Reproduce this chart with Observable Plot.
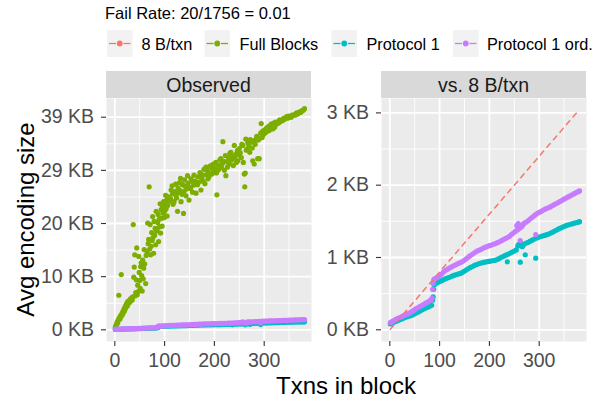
<!DOCTYPE html>
<html>
<head>
<meta charset="utf-8">
<script src="https://cdn.jsdelivr.net/npm/d3@7"></script>
<script src="https://cdn.jsdelivr.net/npm/@observablehq/plot@0.6"></script>
<style>
  html, body { margin: 0; padding: 0; background: #fff; }
  #chart { position: relative; width: 593px; height: 402px; overflow: hidden; background: #fff;
           font-family: "Liberation Sans", Arial, Helvetica, sans-serif; }
  #chart > svg.panel { position: absolute; }
  #overlay { position: absolute; left: 0; top: 0; pointer-events: none; }
</style>
</head>
<body>
<div id="chart"></div>
<script>
// ---------------- data ----------------
const legendTitle = "Fail Rate: 20/1756 = 0.01";
const seriesNames = ["8 B/txn", "Full Blocks", "Protocol 1", "Protocol 1 ord."];
const seriesColors = ["#F8766D", "#7CAE00", "#00BFC4", "#C77CFF"];
const facetNames = ["Observed", "vs. 8 B/txn"];
const xLabel = "Txns in block";
const yLabel = "Avg encoding size";

const xTicks = [0, 100, 200, 300];
const xTickLabels = ["0", "100", "200", "300"];
const xMinorTicks = [50, 150, 250, 350];
const yTicksObserved = [0, 10000, 20000, 30000, 40000];
const yTickLabelsObserved = ["0 KB", "10 KB", "20 KB", "29 KB", "39 KB"];
const yMinorObserved = [5000, 15000, 25000, 35000];
const yTicksVs = [0, 1000, 2000, 3000];
const yTickLabelsVs = ["0 KB", "1 KB", "2 KB", "3 KB"];
const yMinorVs = [500, 1500, 2500];

// [txns, bytes]
const eightBPerTxn = [[1, 8], [380, 3040]];

const fullBlocks = [
  [1,450],[2,700],[3,900],[4,1200],[5,1500],[6,1300],[7,1900],[8,6500],[9,2200],[10,2000],
  [11,2600],[12,2400],[13,10400],[14,3000],[15,2800],[16,3400],[17,3200],[18,3800],[19,3500],[20,4200],
  [21,3900],[22,4600],[23,4400],[24,5000],[25,4500],[26,5300],[27,4900],[28,5400],[30,5200],[31,5800],
  [32,5500],[34,6000],[35,5600],[36,6200],[37,19800],[38,9900],[39,11800],[40,14100],[41,6400],[42,7000],
  [43,9400],[44,15400],[45,6600],[46,8400],[47,7200],[48,13800],[49,10800],[50,9300],[51,7800],[52,11900],
  [53,12600],[54,10200],[55,7300],[56,13100],[57,9600],[58,11600],[59,15100],[60,12400],[62,8700],[63,14000],
  [65,14700],[66,20100],[67,16200],[68,17000],[69,26900],[70,15200],[71,19800],[72,14100],[73,15700],[74,18300],
  [75,16800],[76,21300],[77,17400],[78,14400],[79,20400],[80,17800],[81,19100],[82,16000],[83,22300],[84,18600],
  [85,18900],[86,20200],[87,21700],[88,16600],[89,20800],[90,19400],[91,23700],[92,18200],[93,22600],[94,21000],
  [95,19500],[96,23200],[97,22000],[98,24100],[99,21100],[100,22300],[101,23800],[102,25300],[103,22800],[104,24400],
  [105,21400],[106,23400],[108,25000],[110,24200],[112,24700],[113,26300],[115,27100],[116,25600],[117,23600],[119,24100],
  [120,26000],[122,27400],[123,25300],[124,24800],[126,22300],[127,26700],[128,25800],[130,27700],[131,26200],[132,28500],
  [133,24100],[135,25500],[136,27300],[138,21900],[139,26000],[140,28200],[141,27000],[143,25200],[144,26500],[146,29000],
  [147,27600],[149,24400],[150,26800],[152,26600],[153,28400],[155,27900],[156,25900],[158,27200],[159,29100],[161,28000],
  [163,25700],[164,27500],[166,27300],[167,28800],[169,27800],[171,29600],[173,26300],[174,29300],[175,28300],[176,29000],
  [178,27900],[179,30200],[181,27500],[183,30600],[184,29200],[186,29900],[187,28400],[189,28800],[190,30700],[192,29500],
  [193,30900],[195,29300],[196,30300],[198,31200],[199,29800],[201,30400],[203,31500],[204,29500],[205,25400],[206,29900],
  [208,31000],[209,30200],[211,32000],[213,32200],[214,30600],[216,31300],[217,35400],[219,31700],[220,30000],[222,32800],
  [223,29000],[225,31600],[226,30600],[228,32400],[230,31200],[231,33200],[233,33400],[234,31900],[236,32600],[238,30900],
  [240,34700],[241,32300],[243,33000],[244,31500],[246,33700],[247,31800],[249,32900],[250,34100],[252,33300],[254,32400],
  [255,34900],[257,34700],[258,31500],[260,29300],[261,26900],[262,29500],[263,35900],[264,33800],[266,34000],[267,35200],
  [269,34600],[271,33400],[272,35800],[274,35300],[276,34200],[277,31800],[279,35600],[280,31200],[282,34900],[284,35900],
  [285,36400],[287,32200],[288,35700],[290,32200],[291,36000],[293,37000],[294,38800],[296,36200],[297,37400],[299,36800],
  [301,37600],[303,37100],[305,38000],[307,37400],[309,38300],[310,37500],[312,38200],[314,38700],[316,38400],[317,37800],
  [319,38900],[321,38100],[323,39100],[325,38700],[327,39100],[329,38900],[331,39500],[333,39200],[335,39400],[337,39400],
  [339,39800],[341,39600],[343,39800],[345,40100],[347,39800],[349,40200],[351,40000],[354,40000],[356,40400],[358,40300],
  [361,40500],[363,40400],[365,40800],[367,40600],[369,40800],[371,41000],[373,40900],[375,41200],[377,41200],[379,41400],
  [381,41600]
];

const protocol1 = [
  [1,80],[4,90],[8,103],[12,115],[16,127],[20,138],[24,150],[28,162],[32,173],[36,183],
  [40,192],[44,200],[48,214],[52,228],[56,243],[60,258],[64,272],[68,288],[72,300],[76,312],
  [80,325],[84,338],[86,410],[87,455],[88,560],[89,620],[91,636],[94,648],[98,660],[102,672],
  [106,686],[110,700],[114,712],[118,722],[122,733],[126,745],[130,755],[134,765],[138,772],[142,780],
  [146,795],[150,812],[154,830],[158,848],[162,862],[166,875],[170,890],[174,902],[178,912],[182,920],
  [186,928],[190,935],[194,940],[198,945],[202,950],[206,955],[210,960],[214,968],[218,980],[222,995],
  [226,1010],[230,1022],[234,1035],[236,940],[238,1048],[242,1060],[246,1075],[250,1090],[254,1105],[257,1160],
  [259,1180],[262,935],[263,1200],[266,1150],[268,1170],[270,1185],[272,1037],[274,1200],[278,1210],[282,1225],
  [286,1240],[290,1255],[293,991],[295,1268],[299,1280],[303,1290],[307,1298],[311,1305],[315,1315],[319,1325],
  [323,1338],[327,1350],[331,1365],[335,1380],[339,1395],[343,1408],[347,1420],[351,1432],[355,1443],[359,1452],
  [363,1460],[367,1468],[371,1476],[375,1483],[379,1490],[381,1495]
];

const protocol1Ord = [
  [1,100],[4,112],[8,128],[12,143],[16,158],[20,170],[24,183],[28,196],[32,208],[36,220],
  [40,233],[44,250],[48,268],[52,288],[56,305],[60,322],[64,336],[68,352],[72,368],[76,382],
  [80,400],[83,412],[85,440],[86,560],[87,640],[88,690],[90,705],[93,716],[96,730],[100,748],
  [104,770],[108,800],[112,822],[116,838],[120,855],[124,870],[128,886],[132,898],[136,912],[140,925],
  [144,936],[148,955],[152,975],[156,995],[160,1018],[164,1038],[168,1055],[172,1075],[176,1092],[180,1103],
  [184,1117],[188,1130],[192,1142],[196,1155],[200,1163],[204,1172],[208,1183],[212,1192],[216,1205],[220,1218],
  [224,1232],[228,1248],[232,1262],[236,1276],[240,1292],[244,1318],[248,1338],[252,1360],[255,1440],[256,1380],
  [258,1470],[260,1400],[262,1235],[264,1420],[266,1440],[268,1460],[270,1475],[274,1490],[278,1510],[282,1535],
  [286,1556],[290,1578],[293,1318],[294,1600],[298,1618],[302,1630],[306,1645],[310,1662],[314,1675],[318,1688],
  [322,1700],[326,1715],[330,1730],[334,1745],[338,1760],[342,1775],[346,1792],[350,1808],[354,1822],[358,1838],
  [362,1852],[366,1868],[370,1882],[374,1897],[378,1910],[381,1920]
];

// ---------------- layout ----------------
const FONT = '"Liberation Sans", Arial, Helvetica, sans-serif';
const toRows = arr => arr.map(([x, y]) => ({x, y}));
const xDomain = [-16.7, 395];
const yDomainObserved = [-2200, 43520];
const yDomainVs = [-162, 3199];
const PANEL_TOP = 98, PANEL_H = 243, PANEL_W = 205;

function panel({yDomain, yTicks, yLabels, yMinor, marks, marginLeft, marginRight}) {
  const lookup = (ticks, labels) => d => labels[ticks.indexOf(d)];
  return Plot.plot({
    width: marginLeft + PANEL_W + marginRight,
    height: PANEL_H + 32,
    marginLeft, marginRight, marginTop: 0, marginBottom: 32,
    style: {fontFamily: FONT, fontSize: "19.5px", background: "transparent", color: "#4D4D4D"},
    x: {domain: xDomain},
    y: {domain: yDomain},
    marks: [
      Plot.frame({fill: "#EBEBEB", stroke: "none"}),
      Plot.gridX(xMinorTicks, {stroke: "white", strokeOpacity: 1, strokeWidth: 0.9}),
      Plot.gridY(yMinor, {stroke: "white", strokeOpacity: 1, strokeWidth: 0.9}),
      Plot.gridX(xTicks, {stroke: "white", strokeOpacity: 1, strokeWidth: 1.8}),
      Plot.gridY(yTicks, {stroke: "white", strokeOpacity: 1, strokeWidth: 1.8}),
      Plot.axisX(xTicks, {tickSize: 5, tickPadding: 7, stroke: "#333333", strokeWidth: 1.1,
        fill: "#4D4D4D", tickFormat: lookup(xTicks, xTickLabels), label: null}),
      Plot.axisY(yTicks, {tickSize: 5, tickPadding: 7.5, stroke: "#333333", strokeWidth: 1.1,
        fill: "#4D4D4D", tickFormat: lookup(yTicks, yLabels), label: null}),
      ...marks
    ]
  });
}

const dotOpts = color => ({x: "x", y: "y", r: 2.6, fill: color, stroke: "none"});

const leftPlot = panel({
  yDomain: yDomainObserved, yTicks: yTicksObserved, yLabels: yTickLabelsObserved, yMinor: yMinorObserved,
  marginLeft: 106, marginRight: 2,
  marks: [
    Plot.dot(toRows(fullBlocks), dotOpts(seriesColors[1])),
    Plot.dot(toRows(protocol1), dotOpts(seriesColors[2])),
    Plot.dot(toRows(protocol1Ord), dotOpts(seriesColors[3]))
  ]
});

const rightPlot = panel({
  yDomain: yDomainVs, yTicks: yTicksVs, yLabels: yTickLabelsVs, yMinor: yMinorVs,
  marginLeft: 70, marginRight: 4,
  marks: [
    Plot.dot(toRows(protocol1), dotOpts(seriesColors[2])),
    Plot.dot(toRows(protocol1Ord), dotOpts(seriesColors[3])),
    Plot.line(toRows(eightBPerTxn), {x: "x", y: "y", stroke: seriesColors[0], strokeWidth: 1.5, strokeDasharray: "5,5"})
  ]
});

const chart = document.getElementById("chart");
leftPlot.classList.add("panel");
rightPlot.classList.add("panel");
leftPlot.style.left = "0px"; leftPlot.style.top = PANEL_TOP + "px";
rightPlot.style.left = "311px"; rightPlot.style.top = PANEL_TOP + "px";
chart.appendChild(leftPlot);
chart.appendChild(rightPlot);

// overlay: legend, strips, axis titles
const svg = d3.select(chart).append("svg").attr("id", "overlay")
  .attr("width", 593).attr("height", 402).style("font-family", FONT);

svg.append("text").attr("x", 105).attr("y", 19).attr("font-size", 16.5).attr("fill", "#000").text(legendTitle);

const keyX = [107, 204.5, 331.5, 453];
const labelX = [141.5, 239.5, 366.5, 487];
seriesNames.forEach((name, i) => {
  const g = svg.append("g").attr("transform", `translate(${keyX[i]},30)`);
  g.append("rect").attr("width", 25.5).attr("height", 27).attr("fill", "#F2F2F2");
  g.append("line").attr("x1", 2).attr("x2", 9).attr("y1", 13.5).attr("y2", 13.5)
    .attr("stroke", seriesColors[i]).attr("stroke-width", 1.3);
  g.append("line").attr("x1", 16.5).attr("x2", 23.5).attr("y1", 13.5).attr("y2", 13.5)
    .attr("stroke", seriesColors[i]).attr("stroke-width", 1.3);
  g.append("circle").attr("cx", 12.75).attr("cy", 13.5).attr("r", 2.9).attr("fill", seriesColors[i]);
  svg.append("text").attr("x", labelX[i]).attr("y", 49.5).attr("font-size", 16.3).attr("fill", "#000").text(name);
});

const stripX = [106, 381];
facetNames.forEach((name, i) => {
  svg.append("rect").attr("x", stripX[i]).attr("y", 71).attr("width", PANEL_W).attr("height", 27).attr("fill", "#D9D9D9");
  svg.append("text").attr("x", stripX[i] + PANEL_W / 2).attr("y", 91.5).attr("text-anchor", "middle")
    .attr("font-size", 19.5).attr("fill", "#1A1A1A").text(name);
});

svg.append("text").attr("x", 346).attr("y", 393.5).attr("text-anchor", "middle")
  .attr("font-size", 24).attr("fill", "#000").text(xLabel);
svg.append("text").attr("transform", "translate(33.5,219.5) rotate(-90)").attr("text-anchor", "middle")
  .attr("font-size", 24).attr("fill", "#000").text(yLabel);
</script>
</body>
</html>
